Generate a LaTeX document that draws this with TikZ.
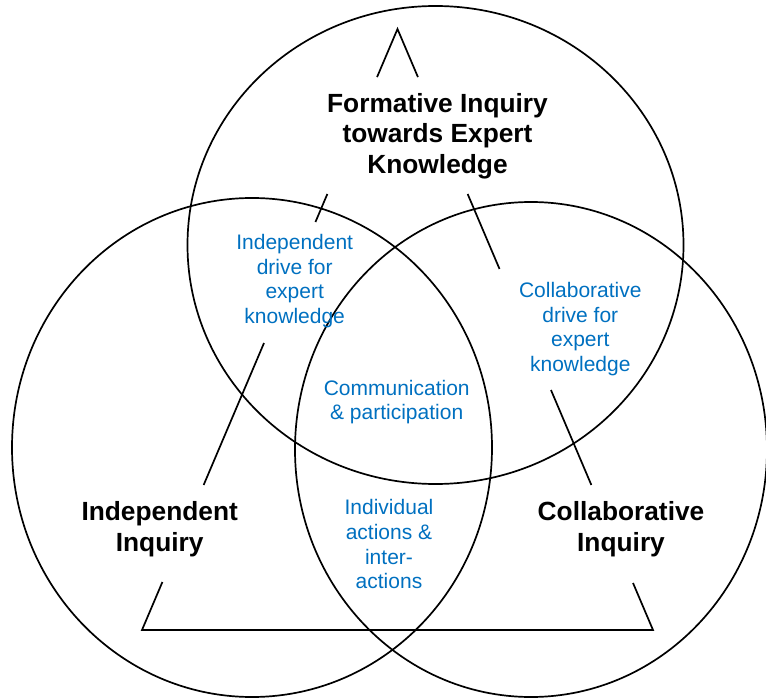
\documentclass[tikz,border=0pt]{standalone}
\usepackage{fontspec}
\setmainfont{Liberation Sans}
\usepackage{xcolor}
\usepackage{tikz}
\usetikzlibrary{calc}
\definecolor{driveblue}{HTML}{0070C0}

\begin{document}
\begin{tikzpicture}[
  x=1pt, y=-1pt,
  ring/.style    = {line width=1.7pt},
  leg/.style     = {line width=1.7pt},
  inquiry/.style = {align=center, inner sep=0pt,
                    font=\fontsize{26.3}{30.5}\selectfont\bfseries},
  overlap/.style = {align=center, inner sep=0pt, text=driveblue,
                    font=\fontsize{21}{24.7}\selectfont}
]
  \useasboundingbox (0,0) rectangle (766,698);

  % three inquiry circles
  \draw[ring] (435.5,245) ellipse [x radius=248pt, y radius=239pt];
  \draw[ring] (252,447.5) ellipse [x radius=240pt, y radius=249.5pt];
  \draw[ring] (531,449.5) ellipse [x radius=236pt, y radius=247.5pt];

  \node[inquiry] (formative) at (437.5,136) {Formative Inquiry\\towards Expert\\Knowledge};
  \node[inquiry] (indep)     at (159.7,529) {Independent\\Inquiry};
  \node[inquiry] (collab)    at (621,529)   {Collaborative\\Inquiry};

  \node[overlap] (idrive) at (294.7,281) {Independent\\drive for\\expert\\knowledge};
  \node[overlap] (cdrive) at (580.3,329) {Collaborative\\drive for\\expert\\knowledge};
  \node[overlap] (comm)   at (396.7,402) {Communication\\\& participation};
  \node[overlap] (indiv)  at (389,544.4) {Individual\\actions \&\\inter-\\actions};

  % triangle, broken where the labels sit
  \coordinate (apex) at (397.5,29);
  \coordinate (bl)   at (142,630);
  \coordinate (br)   at (653,630);
  \draw[leg] ($(apex)!0.08!(bl)$) -- (apex) -- ($(apex)!0.08!(br)$);
  \draw[leg] ($(apex)!0.9201!(bl)$) -- (bl) -- (br) -- ($(apex)!0.9218!(br)$);
  \foreach \a/\b in {0.2745/0.3211,0.5225/0.7587}
    \draw[leg] ($(apex)!\a!(bl)$) -- ($(apex)!\b!(bl)$);
  \foreach \a/\b in {0.2745/0.3993,0.6007/0.7587}
    \draw[leg] ($(apex)!\a!(br)$) -- ($(apex)!\b!(br)$);
\end{tikzpicture}
\end{document}
